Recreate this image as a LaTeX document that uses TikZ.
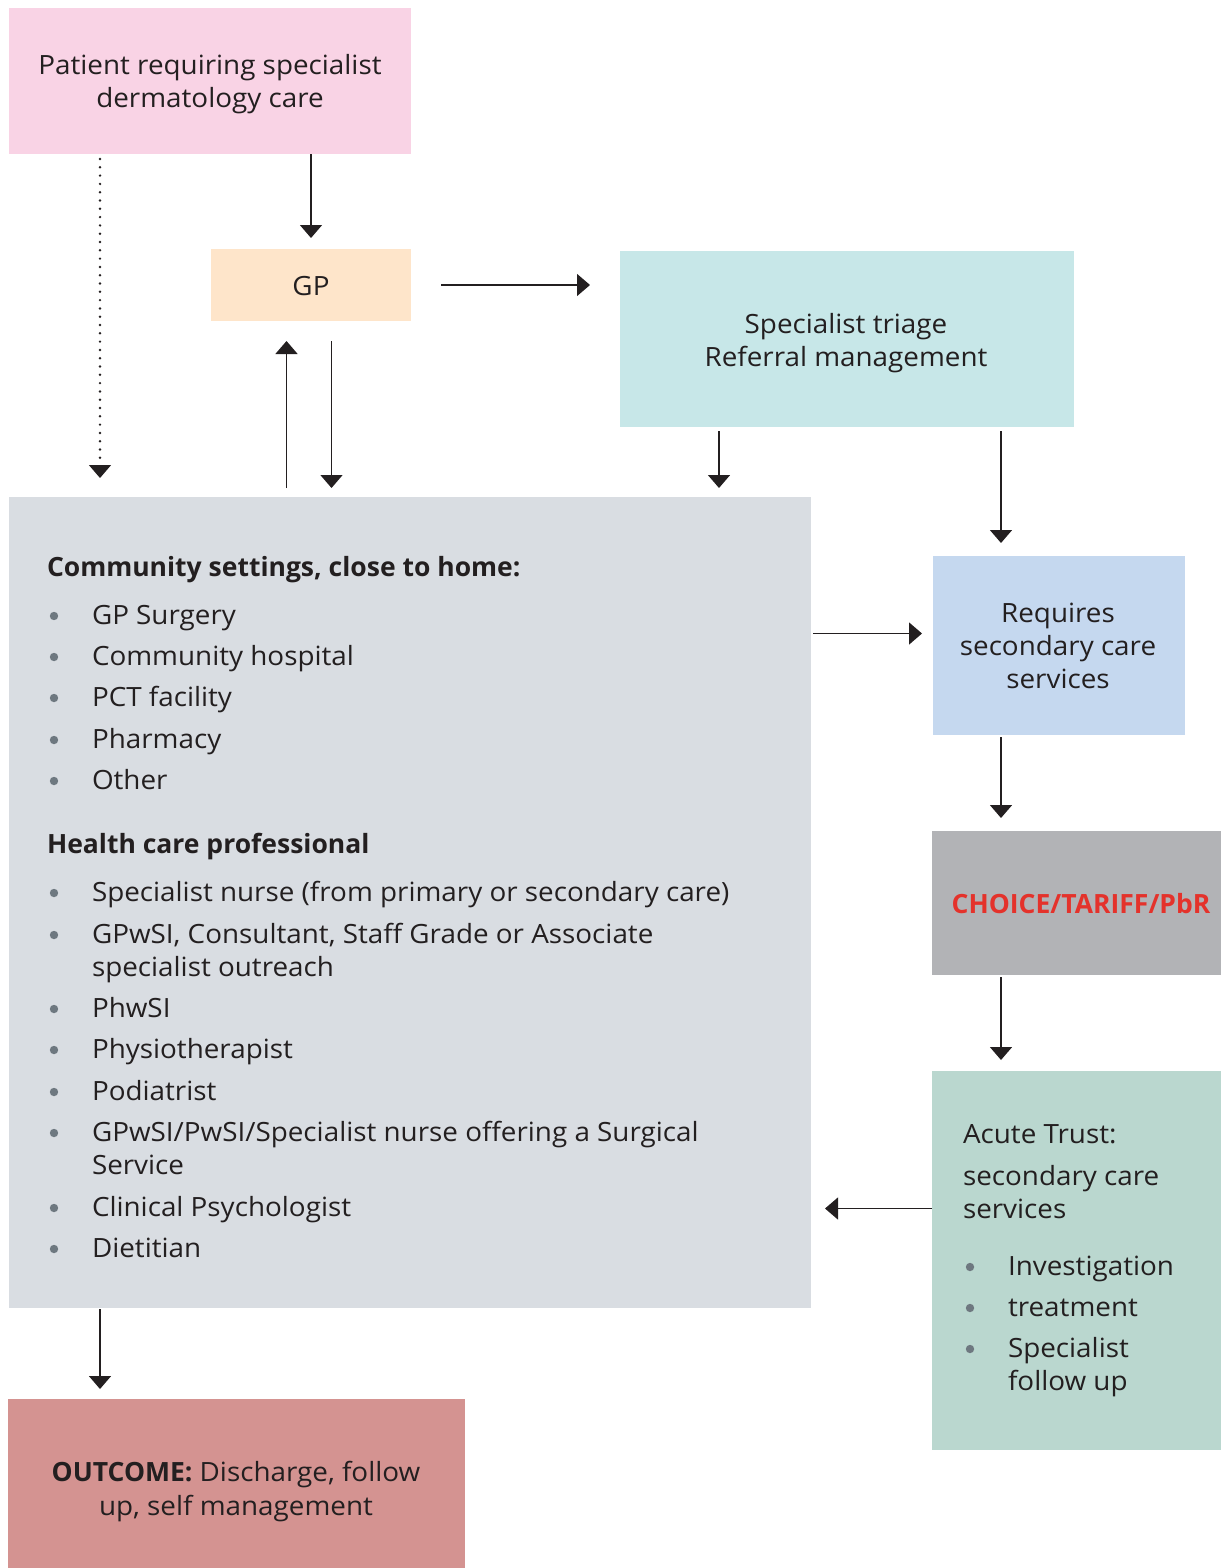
\documentclass[tikz,border=0pt]{standalone}
\usepackage{fontspec}
\setmainfont{Open Sans}[UprightFeatures={FakeStretch=1.05}]
\usetikzlibrary{arrows.meta,calc}
\definecolor{ink}{HTML}{231F20}
\definecolor{bul}{HTML}{6E7880}
\definecolor{cpink}{HTML}{F9D3E5}
\definecolor{cgp}{HTML}{FEE5CA}
\definecolor{ctri}{HTML}{C7E7E8}
\definecolor{ccomm}{HTML}{D9DDE2}
\definecolor{creq}{HTML}{C5D8EF}
\definecolor{cch}{HTML}{B2B3B6}
\definecolor{chred}{HTML}{E4322B}
\definecolor{cac}{HTML}{BAD7CF}
\definecolor{cout}{HTML}{D49391}
\begin{document}
\begin{tikzpicture}[x=1pt,y=-1pt,
  box/.style={draw=none, inner sep=0pt, outer sep=0pt, anchor=north west},
  txt/.style={inner sep=0pt, outer sep=0pt, anchor=base, text=ink, font=\fontsize{26.5}{33}\selectfont},
  ltxt/.style={txt, anchor=base west},
  arr/.style={draw=ink, line width=1.5pt, -{Triangle[width=22pt,length=13pt]}},
  dotarr/.style={draw=ink, line width=2.7pt, line cap=round, dash pattern=on 0pt off 8.3pt},
  bull/.style={fill=bul}
]
\useasboundingbox (0,0) rectangle (1221,1568);
% boxes
\node[box, fill=cpink, minimum width=402pt, minimum height=146pt] (pat) at (9,8) {};
\node[box, fill=cgp, minimum width=200pt, minimum height=72pt] (gp) at (211,249) {};
\node[box, fill=ctri, minimum width=454pt, minimum height=176pt] (tri) at (620,251) {};
\node[box, fill=ccomm, minimum width=802pt, minimum height=811pt] (comm) at (9,497) {};
\node[box, fill=creq, minimum width=252pt, minimum height=179pt] (req) at (933,556) {};
\node[box, fill=cch, minimum width=289pt, minimum height=144pt] (ch) at (932,831) {};
\node[box, fill=cac, minimum width=289pt, minimum height=379pt] (ac) at (932,1071) {};
\node[box, fill=cout, minimum width=457pt, minimum height=169pt] (out) at (8,1399) {};
% texts
\node[txt] (patA) at (210,75) {Patient requiring specialist};
\node[txt] (patB) at (210,108) {dermatology care};
\node[txt] (gpT) at (311,295) {GP};
\node[txt] (triA) at (846,333) {Specialist triage};
\node[txt] (triB) at (846,366) {Referral management};
\node[ltxt] (h1) at (47,576) {\textbf{Community settings, close to home:}};
\node[ltxt] (c1) at (92,624) {GP Surgery};
\node[ltxt] (c2) at (92,665) {Community hospital};
\node[ltxt] (c3) at (92,706) {PCT facility};
\node[ltxt] (c4) at (92,748) {Pharmacy};
\node[ltxt] (c5) at (92,789) {Other};
\node[ltxt] (h2) at (47,853) {\textbf{Health care professional}};
\node[ltxt] (p1) at (92,901) {Specialist nurse (from primary or secondary care)};
\node[ltxt] (p2a) at (92,943) {GPwSI, Consultant, Staff Grade or Associate};
\node[ltxt] (p2b) at (92,976) {specialist outreach};
\node[ltxt] (p3) at (92,1017) {PhwSI};
\node[ltxt] (p4) at (92,1058) {Physiotherapist};
\node[ltxt] (p5) at (92,1100) {Podiatrist};
\node[ltxt] (p6a) at (92,1141) {GPwSI/PwSI/Specialist nurse offering a Surgical};
\node[ltxt] (p6b) at (92,1174) {Service};
\node[ltxt] (p7) at (92,1216) {Clinical Psychologist};
\node[ltxt] (p8) at (92,1257) {Dietitian};
\foreach \yy in {624,665,706,748,789,901,943,1017,1058,1100,1141,1216,1257}
  \fill[bull] (54,\yy-8) circle (4.2);
\node[txt] (reqA) at (1058,622) {Requires};
\node[txt] (reqB) at (1058,655) {secondary care};
\node[txt] (reqC) at (1058,688) {services};
\node[txt, text=chred] (chT) at (1081,913) {\textbf{CHOICE/TARIFF/PbR}};
\node[ltxt] (acA) at (963,1143) {Acute Trust:};
\node[ltxt] (acB) at (963,1185) {secondary care};
\node[ltxt] (acC) at (963,1218) {services};
\node[ltxt] (a1) at (1008,1275) {Investigation};
\node[ltxt] (a2) at (1008,1316) {treatment};
\node[ltxt] (a3a) at (1008,1357) {Specialist};
\node[ltxt] (a3b) at (1008,1390) {follow up};
\foreach \yy in {1275,1316,1357}
  \fill[bull] (970,\yy-8) circle (4.2);
\node[txt] (outA) at (236,1481) {\textbf{OUTCOME:} Discharge, follow};
\node[txt] (outB) at (236,1515) {up, self management};
% helper coordinates
\coordinate (dotx) at ([xshift=91pt]pat.south west);
\coordinate (gpL) at ([xshift=-24.5pt]gp.south);
\coordinate (gpR) at ([xshift=20.5pt]gp.south);
\coordinate (triL) at ([xshift=99pt]tri.south west);
\coordinate (colx) at ([xshift=68pt]req.north west);
\coordinate (reqy) at ([yshift=12pt]req.west);
\coordinate (acy) at ([yshift=52pt]ac.west);
\coordinate (outx) at ([xshift=92pt]out.north west);
% connectors
\draw[arr, shorten >=11pt] (gp.north |- pat.south) -- (gp.north);
\draw[dotarr, shorten <=5pt, shorten >=32pt] (dotx) -- (dotx |- comm.north);
\draw[draw=ink, line width=1.5pt, -{Triangle[width=22pt,length=13pt]}, shorten <=6pt, shorten >=19pt] ([yshift=20pt]dotx |- comm.north) -- (dotx |- comm.north);
\draw[arr, shorten <=30pt, shorten >=30pt] (gp.east) -- (gp.east -| tri.west);
\draw[arr, shorten <=9pt, shorten >=20pt] (gpL |- comm.north) -- (gpL);
\draw[arr, shorten <=20pt, shorten >=9pt] (gpR) -- (gpR |- comm.north);
\draw[arr, shorten <=4pt, shorten >=9pt] (triL) -- (triL |- comm.north);
\draw[arr, shorten <=4pt, shorten >=13pt] (colx |- tri.south) -- (colx);
\draw[arr, shorten <=2pt, shorten >=13pt] (colx |- req.south) -- (colx |- ch.north);
\draw[arr, shorten <=2pt, shorten >=11pt] (colx |- ch.south) -- (colx |- ac.north);
\draw[arr, shorten <=2pt, shorten >=11pt] (reqy -| comm.east) -- (reqy);
\draw[arr, shorten >=14pt] (acy) -- (acy -| comm.east);
\draw[arr, shorten <=1pt, shorten >=10pt] (dotx |- comm.south) -- (outx);
\end{tikzpicture}
\end{document}
